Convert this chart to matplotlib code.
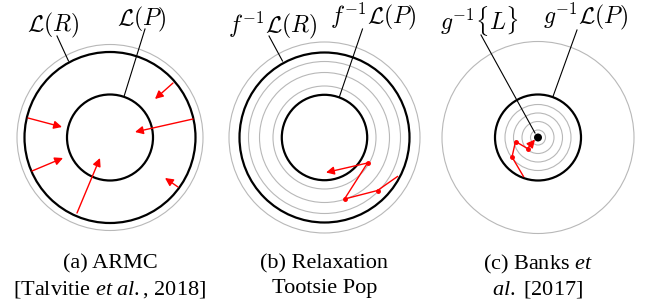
import matplotlib.pyplot as plt
from matplotlib.patches import Circle

plt.rcParams['mathtext.fontset'] = 'custom'
plt.rcParams['mathtext.rm'] = 'Liberation Serif'
plt.rcParams['mathtext.it'] = 'Liberation Serif:italic'
plt.rcParams['font.family'] = 'Liberation Serif'

# panel centres (pixel coords, y down)
centers = [(110, 137.5), (324.5, 137.5), (538, 137.5)]

# circles per panel: (radius, kind)
circles_a = [(93, 'gray'), (85.5, 'black'), (43, 'black')]
circles_b = [(95.5, 'gray'), (85, 'black'), (76, 'gray'), (65, 'gray'), (51.5, 'gray'), (42.7, 'black')]
circles_c = [(96, 'gray'), (43, 'black'), (33, 'gray'), (24.5, 'gray'), (16, 'gray'), (7.5, 'gray')]

# red arrows in (a): start -> end
arrows_a = [((173, 83), (155, 99)),
            ((28, 118), (62, 127)),
            ((193, 119), (135, 132)),
            ((32, 171), (63, 158)),
            ((77, 213), (100, 158)),
            ((178, 187), (165, 178))]

# red zig-zag paths in (b) and (c)
path_b = [(397.5, 176.5), (377.5, 190.5), (344.5, 199), (367.5, 163), (326, 172.5)]
path_c = [(523.5, 176.5), (512, 157), (515.5, 141.5), (527.5, 148.5), (535, 139.5)]

# leader lines: (text pos) -> (circle point)
leaders = [((57, 36), (68.5, 61)), ((145, 29), (124, 96.5)),
           ((269, 36), (282.5, 61)), ((362.5, 29), (339.5, 96.5)),
           ((481, 35), (535, 133)), ((577, 30), (553, 96.5))]

labels = [r'$\mathcal{L}(R)$', r'$\mathcal{L}(P)$',
          r'$f^{-1}\mathcal{L}(R)$', r'$f^{-1}\mathcal{L}(P)$',
          r'$g^{-1}\{L\}$', r'$g^{-1}\mathcal{L}(P)$']
label_pos = [(53, 31), (142, 25), (273, 32), (373, 23), (479, 30), (585, 23)]

captions = [('(a) ARMC', r'[Talvitie $\mathit{et\ al.}\mathrm{,}$ 2018]'),
            ('(b) Relaxation', 'Tootsie Pop'),
            (r'(c) Banks $\mathit{et}$', r'$\mathit{al.}\mathrm{\ [2017]}$')]

fig = plt.figure(figsize=(6.49, 3.08), dpi=100)
ax = fig.add_axes([0, 0, 1, 1])
ax.set_xlim(0, 649)
ax.set_ylim(308, 0)
ax.set_aspect('equal')
ax.axis('off')

for (cx, cy), circs in zip(centers, [circles_a, circles_b, circles_c]):
    for r, kind in circs:
        if kind == 'black':
            ax.add_patch(Circle((cx, cy), r, fill=False, ec='black', lw=1.6))
        else:
            ax.add_patch(Circle((cx, cy), r, fill=False, ec='#b8b8b8', lw=0.8))

# target dot in (c)
ax.add_patch(Circle(centers[2], 4, fc='black', ec='none'))

arrow_kw = dict(arrowstyle='-|>', color='red', lw=1.0, mutation_scale=12,
                shrinkA=0, shrinkB=0)
for start, end in arrows_a:
    ax.annotate('', xy=end, xytext=start, arrowprops=arrow_kw)

for path in [path_b, path_c]:
    xs = [p[0] for p in path[:-1]]
    ys = [p[1] for p in path[:-1]]
    ax.plot(xs, ys, color='red', lw=1.0)
    ax.plot(xs[1:], ys[1:], 'o', color='red', ms=2.5)
    ax.annotate('', xy=path[-1], xytext=path[-2], arrowprops=arrow_kw)

for (p0, p1) in leaders:
    ax.plot([p0[0], p1[0]], [p0[1], p1[1]], color='black', lw=0.8)

for txt, (x, y) in zip(labels, label_pos):
    ax.text(x, y, txt, ha='center', va='baseline', fontsize=17, math_fontfamily='cm')

for (cx, cy), (l1, l2) in zip(centers, captions):
    ax.text(cx, 264, l1, ha='center', va='center', fontsize=16)
    ax.text(cx, 289, l2, ha='center', va='center', fontsize=16)

fig.savefig('out.png', dpi=100)
